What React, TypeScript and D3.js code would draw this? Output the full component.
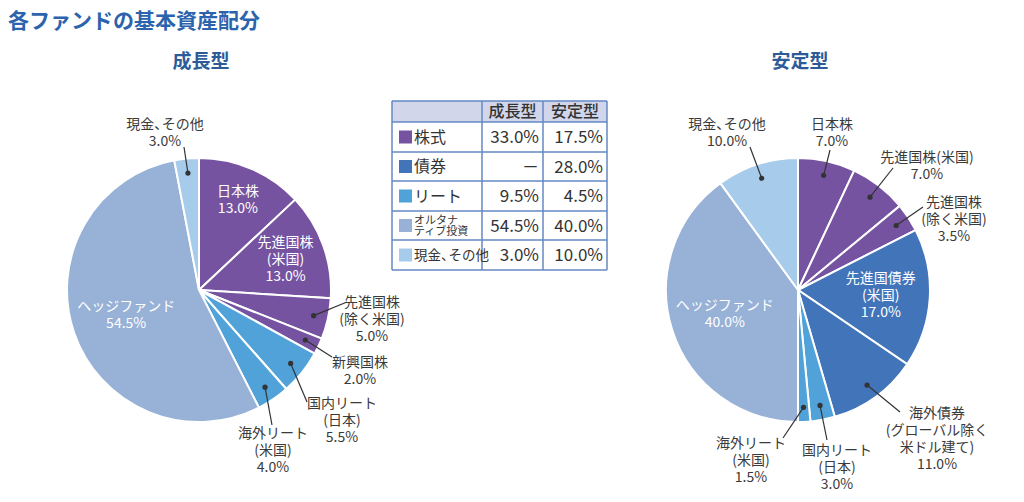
import React from 'react';
import * as d3 from 'd3';

// ---------- data ----------
const growthNames = ['日本株', '先進国株(米国)', '先進国株(除く米国)', '新興国株', '国内リート(日本)', '海外リート(米国)', 'ヘッジファンド', '現金、その他'];
const growthValues = [13.0, 13.0, 5.0, 2.0, 5.5, 4.0, 54.5, 3.0];
const growthGroups = ['株式', '株式', '株式', '株式', 'リート', 'リート', 'オルタナティブ投資', '現金、その他'];
const growthLabelLines = [
  ['日本株', '13.0%'],
  ['先進国株', '(米国)', '13.0%'],
  ['先進国株', '(除く米国)', '5.0%'],
  ['新興国株', '2.0%'],
  ['国内リート', '(日本)', '5.5%'],
  ['海外リート', '(米国)', '4.0%'],
  ['ヘッジファンド', '54.5%'],
  ['現金、その他', '3.0%'],
];

const stableNames = ['日本株', '先進国株(米国)', '先進国株(除く米国)', '先進国債券(米国)', '海外債券(グローバル除く米ドル建て)', '国内リート(日本)', '海外リート(米国)', 'ヘッジファンド', '現金、その他'];
const stableValues = [7.0, 7.0, 3.5, 17.0, 11.0, 3.0, 1.5, 40.0, 10.0];
const stableGroups = ['株式', '株式', '株式', '債券', '債券', 'リート', 'リート', 'オルタナティブ投資', '現金、その他'];
const stableLabelLines = [
  ['日本株', '7.0%'],
  ['先進国株(米国)', '7.0%'],
  ['先進国株', '(除く米国)', '3.5%'],
  ['先進国債券', '(米国)', '17.0%'],
  ['海外債券', '(グローバル除く', '米ドル建て)', '11.0%'],
  ['国内リート', '(日本)', '3.0%'],
  ['海外リート', '(米国)', '1.5%'],
  ['ヘッジファンド', '40.0%'],
  ['現金、その他', '10.0%'],
];

const tableCategories = ['株式', '債券', 'リート', 'オルタナティブ投資', '現金、その他'];
const tableGrowth = ['33.0%', '－', '9.5%', '54.5%', '3.0%'];
const tableStable = ['17.5%', '28.0%', '4.5%', '40.0%', '10.0%'];
const tableHeaders = ['成長型', '安定型'];

// ---------- styling / layout ----------
const groupColor = d3.scaleOrdinal<string, string>()
  .domain(['株式', '債券', 'リート', 'オルタナティブ投資', '現金、その他'])
  .range(['#7553a0', '#4274b9', '#50a2d9', '#97b1d7', '#a7cbea']);

const FONT = '"Noto Sans CJK JP", "Noto Sans", sans-serif';
const TEXT = '#3a3a3a';
const R = 132;

type LabelLayout =
  | { kind: 'inside'; r: number }
  | { kind: 'outside'; tx: number; ty: number; ex: number; ey: number };

// offsets relative to the pie centre
const growthLayout: LabelLayout[] = [
  { kind: 'inside', r: 98 },
  { kind: 'inside', r: 92 },
  { kind: 'outside', tx: 173, ty: 12, ex: 148, ey: 12 },
  { kind: 'outside', tx: 161, ty: 72, ex: 133, ey: 67 },
  { kind: 'outside', tx: 143, ty: 113, ex: 108, ey: 112 },
  { kind: 'outside', tx: 74, ty: 143, ex: 73, ey: 135 },
  { kind: 'inside', r: 77 },
  { kind: 'outside', tx: -34, ty: -166, ex: -15, ey: -143 },
];
const stableLayout: LabelLayout[] = [
  { kind: 'outside', tx: 34, ty: -166, ex: 32, ey: -140 },
  { kind: 'outside', tx: 129, ty: -133, ex: 95, ey: -122 },
  { kind: 'outside', tx: 156, ty: -88, ex: 125, ey: -83 },
  { kind: 'inside', r: 83 },
  { kind: 'outside', tx: 139, ty: 123, ex: 102, ey: 122 },
  { kind: 'outside', tx: 39, ty: 160, ex: 29, ey: 150 },
  { kind: 'outside', tx: -47, ty: 153, ex: -15, ey: 148 },
  { kind: 'inside', r: 77 },
  { kind: 'outside', tx: -71, ty: -166, ex: -48, ey: -143 },
];

const LINE_H = 17;

// render a string, tightening the ideographic comma like the reference typesetting
function Txt(props: any) {
  const { children, ...rest } = props;
  const s: string = children;
  const idx = s.indexOf('、');
  if (idx < 0) return <text {...rest}>{s}</text>;
  return (
    <text {...rest}>
      <tspan>{s.slice(0, idx + 1)}</tspan>
      <tspan dx="-0.45em">{s.slice(idx + 1)}</tspan>
    </text>
  );
}

function Pie({ cx, cy, title, values, groups, lines, layout }: {
  cx: number; cy: number; title: string; values: number[]; groups: string[];
  lines: string[][]; layout: LabelLayout[];
}) {
  const arcs = d3.pie<number>().sort(null).value((d) => d)(values);
  const arc = d3.arc<d3.PieArcDatum<number>>().innerRadius(0).outerRadius(R);
  const polar = (a: number, r: number) => [Math.sin(a) * r, -Math.cos(a) * r];
  return (
    <g>
      <text x={cx + 2} y={68} textAnchor="middle" fontFamily={FONT} fontSize={19} fontWeight={700} fill="#2d5b98">{title}</text>
      <g transform={`translate(${cx},${cy})`}>
        {arcs.map((a, i) => (
          <path key={i} d={arc(a) || ''} fill={groupColor(groups[i])} stroke="#fff" strokeWidth={2} />
        ))}
        {arcs.map((a, i) => {
          const mid = (a.startAngle + a.endAngle) / 2;
          const L = layout[i];
          const ls = lines[i];
          if (L.kind === 'inside') {
            const [x, y] = polar(mid, L.r);
            const y0 = y - ((ls.length - 1) * LINE_H) / 2;
            return (
              <g key={i}>
                {ls.map((t, j) => (
                  <Txt key={j} x={x} y={y0 + j * LINE_H} dy="0.35em" textAnchor="middle" fontFamily={FONT} fontSize={14} fill="#fff">{t}</Txt>
                ))}
              </g>
            );
          }
          const [dx, dy] = polar(mid, R * 0.89);
          return (
            <g key={i}>
              <line x1={dx} y1={dy} x2={L.ex} y2={L.ey} stroke="#333" strokeWidth={1.2} />
              <circle cx={dx} cy={dy} r={2.6} fill="#333" />
              {ls.map((t, j) => (
                <Txt key={j} x={L.tx} y={L.ty + j * LINE_H} dy="0.35em" textAnchor="middle" fontFamily={FONT} fontSize={14} fill={TEXT}>{t}</Txt>
              ))}
            </g>
          );
        })}
      </g>
    </g>
  );
}

function Table() {
  const x0 = 392;
  const colX = [392, 482, 543, 607];
  const rowY = [101, 122, 152, 181, 211, 240, 270];
  const border = '#6488c4';
  return (
    <g fontFamily={FONT}>
      <rect x={x0} y={rowY[0]} width={colX[3] - x0} height={rowY[1] - rowY[0]} fill="#d1d6eb" />
      <rect x={x0} y={rowY[1]} width={colX[3] - x0} height={rowY[6] - rowY[1]} fill="#fff" />
      {rowY.map((y, i) => (
        <line key={'h' + i} x1={x0} x2={colX[3]} y1={y} y2={y} stroke={border} strokeWidth={1.5} />
      ))}
      {colX.map((x, i) => (
        <line key={'v' + i} x1={x} x2={x} y1={rowY[0]} y2={rowY[6]} stroke={border} strokeWidth={1.5} />
      ))}
      {tableHeaders.map((h, i) => (
        <text key={h} x={(colX[i + 1] + colX[i + 2]) / 2} y={(rowY[0] + rowY[1]) / 2} dy="0.36em" textAnchor="middle" fontSize={16} fontWeight={500} fill="#333">{h}</text>
      ))}
      {tableCategories.map((c, i) => {
        const yc = (rowY[i + 1] + rowY[i + 2]) / 2;
        return (
          <g key={c}>
            <rect x={x0 + 7} y={yc - 6.5} width={13} height={13} fill={groupColor(c)} />
            {c === 'オルタナティブ投資' ? (
              <g>
                <text x={x0 + 22} y={yc - 5.5} dy="0.35em" fontSize={11} fill="#333">オルタナ</text>
                <text x={x0 + 22} y={yc + 6} dy="0.35em" fontSize={11} fill="#333">ティブ投資</text>
              </g>
            ) : (
              <Txt x={x0 + 22} y={yc} dy="0.36em" fontSize={c === '現金、その他' ? 13.5 : 16} fill="#333">{c}</Txt>
            )}
            <text x={colX[2] - 4} y={yc} dy="0.36em" textAnchor="end" fontSize={17} fill="#333">{tableGrowth[i]}</text>
            <text x={colX[3] - 4} y={yc} dy="0.36em" textAnchor="end" fontSize={17} fill="#333">{tableStable[i]}</text>
          </g>
        );
      })}
    </g>
  );
}

export default function App() {
  return (
    <svg width={1024} height={502} style={{ position: 'absolute', left: 0, top: 0, background: '#fff' }}>
      <text x={8} y={28} fontFamily={FONT} fontSize={21} fontWeight={700} fill="#2b63ad">各ファンドの基本資産配分</text>
      <Pie cx={199} cy={290} title={tableHeaders[0]} values={growthValues} groups={growthGroups} lines={growthLabelLines} layout={growthLayout} />
      <Pie cx={798} cy={290} title={tableHeaders[1]} values={stableValues} groups={stableGroups} lines={stableLabelLines} layout={stableLayout} />
      <Table />
    </svg>
  );
}
